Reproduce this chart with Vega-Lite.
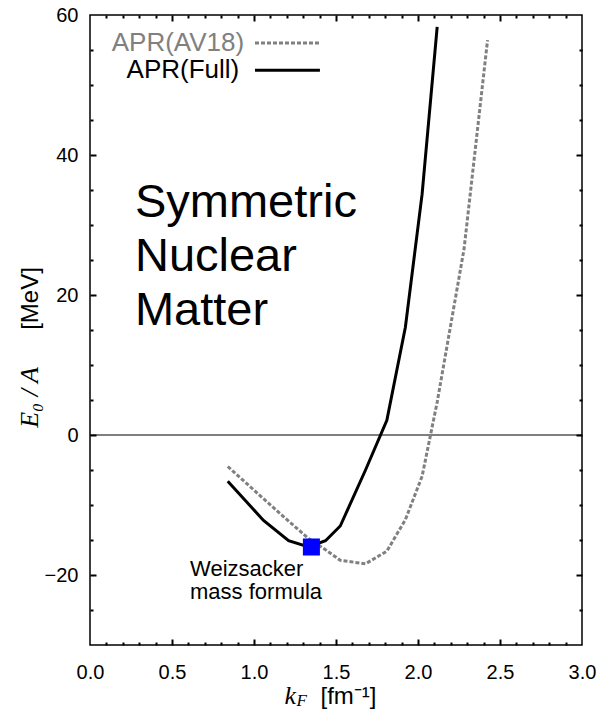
{
  "$schema": "https://vega.github.io/schema/vega-lite/v6.json",
  "width": 492,
  "height": 630,
  "autosize": "none",
  "padding": {"left": 90, "top": 15, "right": 15, "bottom": 65},
  "background": "white",
  "config": {
    "view": {"stroke": "black", "strokeWidth": 1.5},
    "font": "Liberation Sans",
    "axis": {"grid": false, "domain": false, "labelColor": "black", "titleColor": "black", "labelFont": "Liberation Sans", "titleFontWeight": "normal"}
  },
  "datasets": {
    "curves": [
      {"kF": 0.840, "E": -4.5, "model": "AV18"},
      {"kF": 1.058, "E": -9.1, "model": "AV18"},
      {"kF": 1.211, "E": -12.3, "model": "AV18"},
      {"kF": 1.333, "E": -14.8, "model": "AV18"},
      {"kF": 1.436, "E": -16.4, "model": "AV18"},
      {"kF": 1.526, "E": -17.9, "model": "AV18"},
      {"kF": 1.680, "E": -18.4, "model": "AV18"},
      {"kF": 1.810, "E": -16.6, "model": "AV18"},
      {"kF": 1.923, "E": -12.1, "model": "AV18"},
      {"kF": 2.025, "E": -5.9, "model": "AV18"},
      {"kF": 2.117, "E": 4.7, "model": "AV18"},
      {"kF": 2.281, "E": 26.6, "model": "AV18"},
      {"kF": 2.424, "E": 56.4, "model": "AV18"},
      {"kF": 0.840, "E": -6.6, "model": "Full"},
      {"kF": 1.058, "E": -12.2, "model": "Full"},
      {"kF": 1.211, "E": -15.1, "model": "Full"},
      {"kF": 1.333, "E": -16.0, "model": "Full"},
      {"kF": 1.436, "E": -15.1, "model": "Full"},
      {"kF": 1.526, "E": -13.0, "model": "Full"},
      {"kF": 1.680, "E": -5.0, "model": "Full"},
      {"kF": 1.810, "E": 2.1, "model": "Full"},
      {"kF": 1.923, "E": 15.4, "model": "Full"},
      {"kF": 2.025, "E": 34.4, "model": "Full"},
      {"kF": 2.117, "E": 58.3, "model": "Full"}
    ],
    "saturation": [
      {"kF": 1.35, "E": -16}
    ],
    "single": [{}]
  },
  "resolve": {"axis": {"x": "independent", "y": "independent"}},
  "layer": [
    {
      "data": {"name": "single"},
      "mark": {"type": "rule", "color": "black", "strokeWidth": 1},
      "encoding": {
        "y": {"datum": 0, "type": "quantitative", "scale": {"domain": [-30, 60], "nice": false, "zero": false}, "axis": null}
      }
    },
    {
      "data": {"name": "curves"},
      "transform": [{"filter": "datum.model === 'AV18'"}],
      "mark": {"type": "line", "color": "#808080", "strokeWidth": 3, "strokeDash": [4, 2]},
      "encoding": {
        "x": {
          "field": "kF", "type": "quantitative",
          "scale": {"domain": [0, 3], "nice": false, "zero": false},
          "axis": {"orient": "bottom", "ticks": false, "values": [0, 0.5, 1, 1.5, 2, 2.5, 3], "format": ".1f", "labelFontSize": 20, "labelPadding": 17, "labelFlush": false,
                   "title": "k", "titleFont": "Liberation Serif", "titleFontStyle": "italic", "titleFontSize": 26, "titleX": 194, "titleY": 58, "titleAlign": "left", "titleBaseline": "alphabetic", "titleAngle": 0}
        },
        "y": {
          "field": "E", "type": "quantitative",
          "scale": {"domain": [-30, 60], "nice": false, "zero": false},
          "axis": {"orient": "left", "ticks": false, "values": [-20, 0, 20, 40, 60], "labelFontSize": 20, "labelPadding": 12, "labelFlush": false,
                   "title": "E₀ / A", "titleFont": "Liberation Serif", "titleFontStyle": "italic", "titleFontSize": 26, "titleX": -53, "titleY": 382, "titleAlign": "center", "titleBaseline": "alphabetic", "titleAngle": -90}
        }
      }
    },
    {
      "data": {"name": "curves"},
      "transform": [{"filter": "datum.model === 'Full'"}],
      "mark": {"type": "line", "color": "black", "strokeWidth": 3},
      "encoding": {
        "x": {
          "field": "kF", "type": "quantitative",
          "scale": {"domain": [0, 3], "nice": false, "zero": false},
          "axis": {"orient": "bottom", "labels": false, "ticks": true, "tickColor": "#000000", "tickOpacity": 1, "tickWidth": 2, "zindex": 1, "offset": -6, "tickSize": 6, "values": [0.5, 1, 1.5, 2, 2.5],
                   "title": "F", "titleFont": "Liberation Serif", "titleFontStyle": "italic", "titleFontSize": 17, "titleX": 206, "titleY": 66, "titleAlign": "left", "titleBaseline": "alphabetic", "titleAngle": 0}
        },
        "y": {
          "field": "E", "type": "quantitative",
          "scale": {"domain": [-30, 60], "nice": false, "zero": false},
          "axis": {"orient": "left", "labels": false, "ticks": true, "tickColor": "#000000", "tickOpacity": 1, "tickWidth": 2, "zindex": 1, "offset": -6, "tickSize": 6, "values": [-20, 0, 20, 40],
                   "title": "[MeV]", "titleFont": "Liberation Sans", "titleFontSize": 24, "titleX": -59, "titleY": 283, "titleAlign": "center", "titleBaseline": "alphabetic", "titleAngle": -90}
        }
      }
    },
    {
      "data": {"name": "saturation"},
      "mark": {"type": "point", "shape": "square", "filled": true, "color": "#0000ff", "size": 290, "opacity": 1},
      "encoding": {
        "x": {
          "field": "kF", "type": "quantitative",
          "scale": {"domain": [0, 3], "nice": false, "zero": false},
          "axis": {"orient": "bottom", "labels": false, "ticks": true, "tickColor": "#000000", "tickOpacity": 1, "tickWidth": 2, "zindex": 1, "offset": -3, "tickSize": 3, "values": [0.1, 0.2, 0.3, 0.4, 0.6, 0.7, 0.8, 0.9, 1.1, 1.2, 1.3, 1.4, 1.6, 1.7, 1.8, 1.9, 2.1, 2.2, 2.3, 2.4, 2.6, 2.7, 2.8, 2.9],
                   "title": "[fm⁻¹]", "titleFont": "Liberation Sans", "titleFontSize": 24, "titleX": 230, "titleY": 61, "titleAlign": "left", "titleBaseline": "alphabetic", "titleAngle": 0}
        },
        "y": {
          "field": "E", "type": "quantitative",
          "scale": {"domain": [-30, 60], "nice": false, "zero": false},
          "axis": {"orient": "left", "labels": false, "ticks": true, "tickColor": "#000000", "tickOpacity": 1, "tickWidth": 2, "zindex": 1, "offset": -3, "tickSize": 3, "values": [-25, -15, -10, -5, 5, 10, 15, 25, 30, 35, 45, 50, 55], "title": null}
        }
      }
    },
    {
      "data": {"name": "single"},
      "mark": {"type": "text", "text": ["Symmetric", "Nuclear", "Matter"], "font": "Liberation Sans", "fontSize": 47, "lineHeight": 54, "align": "left", "baseline": "alphabetic", "color": "black"},
      "encoding": {
        "x": {"datum": 0.274, "type": "quantitative", "scale": {"domain": [0, 3], "nice": false, "zero": false},
              "axis": {"orient": "top", "labels": false, "ticks": true, "tickColor": "#000000", "tickOpacity": 1, "tickWidth": 2, "zindex": 1, "offset": -6, "tickSize": 6, "values": [0.5, 1, 1.5, 2, 2.5], "title": null}},
        "y": {"datum": 31.2, "type": "quantitative", "scale": {"domain": [-30, 60], "nice": false, "zero": false},
              "axis": {"orient": "right", "labels": false, "ticks": true, "tickColor": "#000000", "tickOpacity": 1, "tickWidth": 2, "zindex": 1, "offset": -6, "tickSize": 6, "values": [-20, 0, 20, 40], "title": null}}
      }
    },
    {
      "data": {"name": "single"},
      "mark": {"type": "text", "text": ["Weizsacker", "mass formula"], "font": "Liberation Sans", "fontSize": 22, "lineHeight": 23, "align": "left", "baseline": "alphabetic", "color": "black"},
      "encoding": {
        "x": {"datum": 0.61, "type": "quantitative", "scale": {"domain": [0, 3], "nice": false, "zero": false},
              "axis": {"orient": "top", "labels": false, "ticks": true, "tickColor": "#000000", "tickOpacity": 1, "tickWidth": 2, "zindex": 1, "offset": -3, "tickSize": 3, "values": [0.1, 0.2, 0.3, 0.4, 0.6, 0.7, 0.8, 0.9, 1.1, 1.2, 1.3, 1.4, 1.6, 1.7, 1.8, 1.9, 2.1, 2.2, 2.3, 2.4, 2.6, 2.7, 2.8, 2.9], "title": null}},
        "y": {"datum": -20.1, "type": "quantitative", "scale": {"domain": [-30, 60], "nice": false, "zero": false},
              "axis": {"orient": "right", "labels": false, "ticks": true, "tickColor": "#000000", "tickOpacity": 1, "tickWidth": 2, "zindex": 1, "offset": -3, "tickSize": 3, "values": [-25, -15, -10, -5, 5, 10, 15, 25, 30, 35, 45, 50, 55], "title": null}}
      }
    },
    {
      "data": {"name": "single"},
      "mark": {"type": "text", "text": "APR(AV18)", "font": "Liberation Sans", "fontSize": 26, "align": "right", "baseline": "middle", "color": "#808080"},
      "encoding": {
        "x": {"datum": 0.94, "type": "quantitative", "scale": {"domain": [0, 3], "nice": false, "zero": false}, "axis": null},
        "y": {"datum": 56.0, "type": "quantitative", "scale": {"domain": [-30, 60], "nice": false, "zero": false}, "axis": null}
      }
    },
    {
      "data": {"name": "single"},
      "mark": {"type": "text", "text": "APR(Full)", "font": "Liberation Sans", "fontSize": 26, "align": "right", "baseline": "middle", "color": "black"},
      "encoding": {
        "x": {"datum": 0.91, "type": "quantitative", "scale": {"domain": [0, 3], "nice": false, "zero": false}, "axis": null},
        "y": {"datum": 52.1, "type": "quantitative", "scale": {"domain": [-30, 60], "nice": false, "zero": false}, "axis": null}
      }
    },
    {
      "data": {"name": "single"},
      "mark": {"type": "rule", "color": "#808080", "strokeWidth": 3, "strokeDash": [4, 2]},
      "encoding": {
        "x": {"datum": 1.006, "type": "quantitative", "scale": {"domain": [0, 3], "nice": false, "zero": false}, "axis": null},
        "x2": {"datum": 1.402},
        "y": {"datum": 56.0, "type": "quantitative", "scale": {"domain": [-30, 60], "nice": false, "zero": false}, "axis": null}
      }
    },
    {
      "data": {"name": "single"},
      "mark": {"type": "rule", "color": "black", "strokeWidth": 3},
      "encoding": {
        "x": {"datum": 1.006, "type": "quantitative", "scale": {"domain": [0, 3], "nice": false, "zero": false}, "axis": null},
        "x2": {"datum": 1.402},
        "y": {"datum": 52.1, "type": "quantitative", "scale": {"domain": [-30, 60], "nice": false, "zero": false}, "axis": null}
      }
    }
  ]
}
